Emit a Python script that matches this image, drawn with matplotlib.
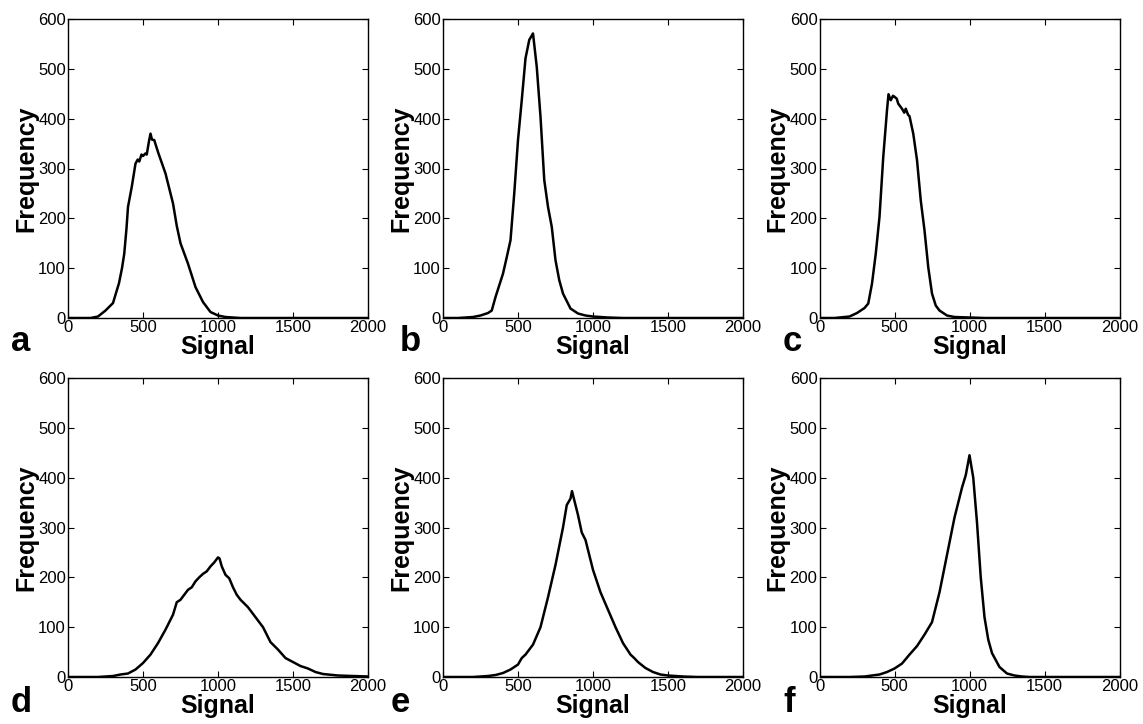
import matplotlib
matplotlib.use("Agg")
import matplotlib.pyplot as plt

plt.rcParams['font.family'] = ['Liberation Sans', 'DejaVu Sans']

# Panel a
a_x = [0, 150, 200, 250, 300, 340, 360, 375, 390, 400, 425, 450, 465, 475, 490, 500, 515, 525, 540, 550, 560, 575, 600, 650, 700, 725, 750, 800, 850, 900, 950, 1000, 1050, 1100, 1150, 2000]
a_y = [0, 0, 3, 15, 30, 70, 100, 129, 180, 223, 263, 310, 318, 314, 328, 325, 330, 328, 355, 370, 358, 357, 333, 290, 230, 185, 150, 109, 62, 32, 12, 5, 2, 1, 0, 0]
# Panel b
b_x = [0, 100, 200, 250, 300, 325, 350, 400, 425, 450, 475, 500, 525, 550, 575, 600, 625, 650, 675, 700, 725, 750, 775, 800, 850, 900, 950, 1000, 1100, 1200, 2000]
b_y = [0, 0, 2, 5, 10, 15, 42, 89, 122, 156, 250, 357, 437, 521, 558, 571, 504, 404, 277, 223, 183, 116, 76, 49, 19, 9, 5, 3, 1, 0, 0]
# Panel c
c_x = [0, 100, 200, 250, 300, 325, 350, 375, 400, 425, 450, 460, 475, 490, 500, 515, 525, 550, 565, 575, 590, 600, 625, 650, 675, 700, 725, 750, 775, 800, 850, 900, 1000, 1100, 2000]
c_y = [0, 0, 3, 10, 20, 29, 69, 129, 203, 323, 417, 449, 437, 446, 444, 440, 430, 420, 412, 420, 408, 405, 370, 317, 236, 176, 102, 49, 25, 15, 5, 2, 1, 0, 0]
# Panel d
d_x = [0, 200, 300, 350, 400, 450, 500, 550, 600, 650, 700, 725, 750, 775, 800, 825, 850, 875, 900, 925, 950, 975, 1000, 1010, 1025, 1050, 1075, 1100, 1125, 1150, 1200, 1250, 1300, 1350, 1400, 1450, 1500, 1550, 1600, 1650, 1700, 1800, 1900, 2000]
d_y = [0, 0, 2, 5, 7, 15, 28, 45, 68, 95, 125, 150, 155, 165, 175, 180, 192, 200, 207, 212, 222, 230, 240, 238, 222, 205, 198, 180, 165, 155, 140, 120, 100, 70, 55, 38, 30, 22, 17, 10, 6, 3, 2, 1]
# Panel e
e_x = [0, 200, 300, 350, 400, 450, 500, 525, 550, 600, 650, 700, 750, 800, 825, 850, 860, 875, 900, 925, 950, 1000, 1050, 1100, 1150, 1200, 1250, 1275, 1300, 1350, 1400, 1450, 1500, 1600, 1700, 2000]
e_y = [0, 0, 2, 4, 8, 15, 25, 38, 45, 65, 100, 160, 225, 300, 345, 358, 373, 355, 325, 290, 275, 215, 170, 135, 100, 68, 45, 38, 30, 18, 10, 5, 3, 1, 0, 0]
# Panel f
f_x = [0, 200, 300, 350, 400, 450, 500, 550, 600, 650, 700, 750, 800, 850, 900, 950, 975, 1000, 1025, 1050, 1075, 1100, 1125, 1150, 1200, 1250, 1300, 1350, 1400, 2000]
f_y = [0, 0, 1, 3, 5, 10, 17, 27, 45, 62, 85, 110, 170, 245, 320, 380, 405, 445, 400, 310, 200, 120, 75, 48, 20, 7, 3, 1, 0, 0]

panel_letters = ['a', 'b', 'c', 'd', 'e', 'f']
xticks = [0, 500, 1000, 1500, 2000]
yticks = [0, 100, 200, 300, 400, 500, 600]

series = [(a_x, a_y), (b_x, b_y), (c_x, c_y), (d_x, d_y), (e_x, e_y), (f_x, f_y)]

W, H = 1143, 724
fig = plt.figure(figsize=(W / 100, H / 100), dpi=100)

lefts = [68, 443, 819.5]
tops = [19, 378]
aw, ah = 300, 299
letter_x = [[11, 400, 783], [11, 391, 783]]
letter_y = [351, 712]

for i, (xs, ys) in enumerate(series):
    r, c = divmod(i, 3)
    l = lefts[c]
    t = tops[r]
    ax = fig.add_axes([l / W, (H - t - ah) / H, aw / W, ah / H])
    ax.plot(xs, ys, color='black', lw=1.8)
    ax.set_xlim(0, 2000)
    ax.set_ylim(0, 600)
    ax.set_xticks(xticks)
    ax.set_yticks(yticks)
    ax.tick_params(direction='in', top=True, right=True, labelsize=12,
                   length=4, width=0.8, pad=1.5)
    for s in ax.spines.values():
        s.set_linewidth(1.0)
    ax.set_xlabel('Signal', fontsize=18, fontweight='bold', labelpad=0)
    ax.set_ylabel('Frequency', fontsize=18, fontweight='bold', labelpad=0)
    fig.text(letter_x[r][c] / W, 1 - letter_y[r] / H, panel_letters[i],
             fontsize=25, fontweight='bold', ha='left', va='baseline')

fig.savefig('out.png', dpi=100)
